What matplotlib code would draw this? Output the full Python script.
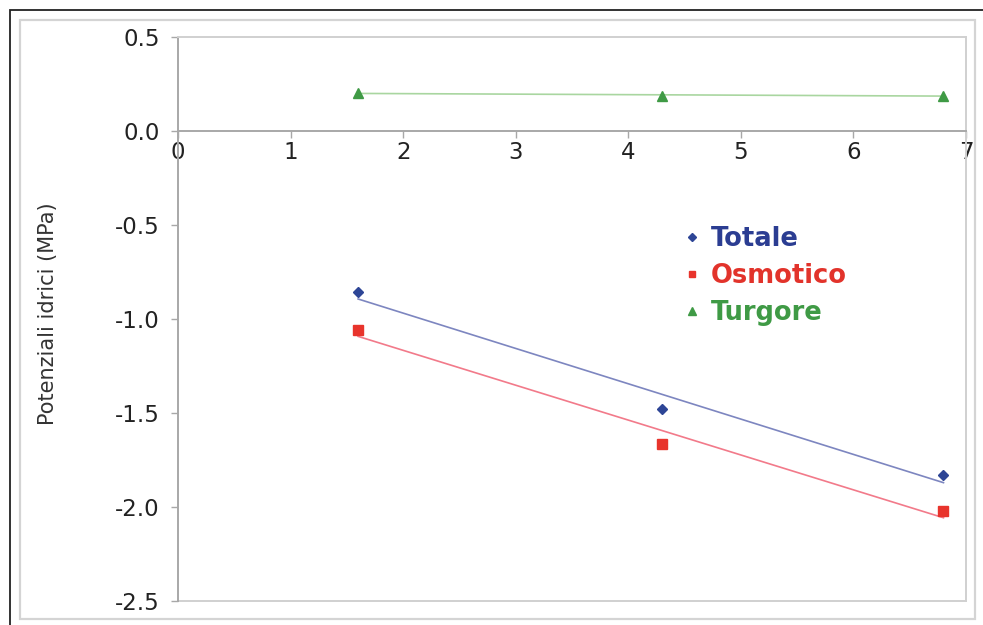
import numpy as np
import matplotlib.pyplot as plt
from matplotlib.lines import Line2D
from matplotlib.patches import Rectangle

plt.rcParams['axes.unicode_minus'] = False
plt.rcParams['font.family'] = ['DejaVu Sans']

# data
x_vals = [1.6, 4.3, 6.8]
totale = [-0.856, -1.479, -1.830]
osmotico = [-1.058, -1.665, -2.020]
turgore = [0.202, 0.188, 0.188]

series_names = ["Totale", "Osmotico", "Turgore"]
series_data = [totale, osmotico, turgore]
marker_colors = ["#2d4596", "#e8342c", "#3f9a45"]
line_colors = ["#7d86c0", "#f27a8a", "#a9d6a0"]
text_colors = ["#2b3d92", "#e2332b", "#3f9a45"]
markers = ["D", "s", "^"]
msizes = [5.5, 6.5, 7]

x_ticks = [0, 1, 2, 3, 4, 5, 6, 7]
y_ticks = [0.5, 0.0, -0.5, -1.0, -1.5, -2.0, -2.5]

fig = plt.figure(figsize=(9.83, 6.25), dpi=100)
W, H = 983, 625

# outer frame and chart area border
fig.add_artist(Rectangle((9.5 / W, -0.1), 1.2, 1.1 - 10.5 / H, transform=fig.transFigure,
                         fill=False, edgecolor="#222222", lw=1.3))
fig.add_artist(Rectangle((20 / W, (H - 619) / H), (975 - 20) / W, (619 - 20) / H,
                         transform=fig.transFigure, fill=False, edgecolor="#d4d4d4", lw=1.6))

ax = fig.add_axes([178 / W, (H - 601) / H, (966 - 178) / W, (601 - 37) / H])

handles = []
for name, ys, mc, lc, mk, ms in zip(series_names, series_data, marker_colors,
                                     line_colors, markers, msizes):
    fit = np.polyfit(x_vals, ys, 1)
    fit_fn = np.poly1d(fit)
    xs = np.array([x_vals[0], x_vals[-1]])
    ax.plot(xs, fit_fn(xs), color=lc, lw=1.2, zorder=2)
    ax.plot(x_vals, ys, linestyle="none", marker=mk, markersize=ms,
            color=mc, markeredgecolor=mc, zorder=3, clip_on=False)
    handles.append(Line2D([], [], linestyle="none", marker=mk, markersize=ms * 0.75,
                          color=mc, markeredgecolor=mc))

ax.set_xlim(0, 7)
ax.set_ylim(-2.5, 0.5)
ax.set_xticks(x_ticks)
ax.set_yticks(y_ticks)
ax.set_yticklabels([f"{v:.1f}" for v in y_ticks])

# axis at zero, plot area border in light grey
ax.spines['bottom'].set_position(('data', 0))
ax.spines['bottom'].set_color("#a8a8a8")
ax.spines['bottom'].set_linewidth(1.4)
ax.spines['left'].set_color("#a8a8a8")
ax.spines['left'].set_linewidth(1.4)
ax.spines['top'].set_color("#d0d0d0")
ax.spines['top'].set_linewidth(1.4)
ax.spines['right'].set_color("#d0d0d0")
ax.spines['right'].set_linewidth(1.4)
ax.axhline(-2.5, color="#d0d0d0", lw=1.4, clip_on=False, zorder=0)

ax.tick_params(axis='x', direction='out', length=5, width=1, color="#a8a8a8",
               labelsize=16.5, labelcolor="#222222", pad=2)
ax.tick_params(axis='y', direction='out', length=5, width=1, color="#a8a8a8",
               labelsize=16.5, labelcolor="#222222", pad=8)

ax.set_ylabel("Potenziali idrici (MPa)", fontsize=15, color="#333333")
ax.yaxis.set_label_coords(-0.152, 0.51)

leg = ax.legend(handles, series_names, loc='upper left', bbox_to_anchor=(0.626, 0.687),
                frameon=False, handlelength=0.6, handletextpad=0.45, labelspacing=0.42,
                borderpad=0, prop={'size': 18.5, 'weight': 'bold'})
for t, c in zip(leg.get_texts(), text_colors):
    t.set_color(c)

plt.savefig("out.png", dpi=100)
